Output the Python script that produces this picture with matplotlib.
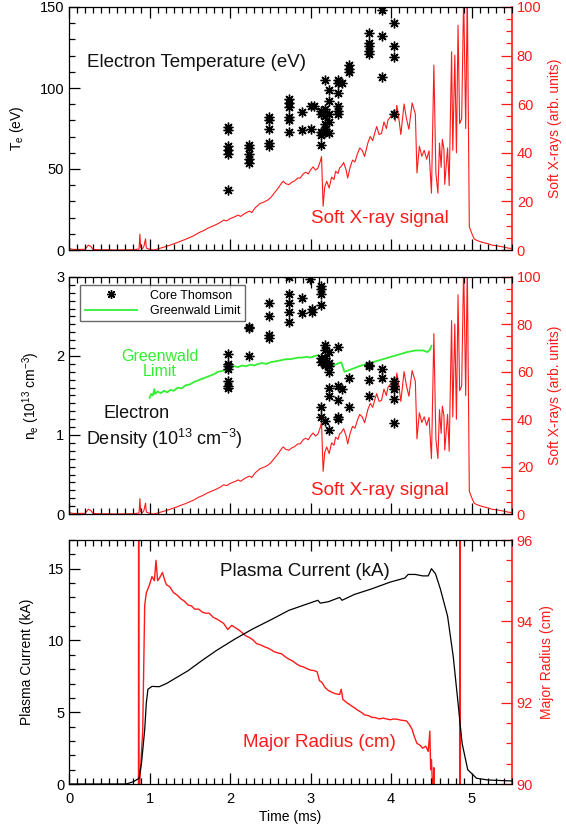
import matplotlib
matplotlib.use("Agg")
import matplotlib.pyplot as plt
from matplotlib.ticker import MultipleLocator
import numpy as np

plt.rcParams['font.family'] = ['Liberation Sans', 'DejaVu Sans']
plt.rcParams['mathtext.fontset'] = 'custom'
plt.rcParams['mathtext.rm'] = 'Liberation Sans'
plt.rcParams['mathtext.it'] = 'Liberation Sans:italic'

RED = '#ff1a1a'
GREEN = '#33ee33'

# ---------------- Soft X-ray signal (arb. units) ----------------
sxr_t = [0.00, 0.03, 0.10, 0.20, 0.24, 0.27, 0.30, 0.40, 0.50, 0.60, 0.70, 0.80, 0.87, 0.88, 0.89,
         0.91, 0.93, 0.95, 0.96, 1.00, 1.05, 1.10, 1.16, 1.22, 1.28, 1.34, 1.39, 1.44, 1.50, 1.55,
         1.61, 1.66, 1.72, 1.78, 1.83, 1.88, 1.92, 1.96, 2.00, 2.06, 2.10, 2.13, 2.18, 2.24, 2.27,
         2.31, 2.37, 2.41, 2.46, 2.50, 2.55, 2.60, 2.64, 2.66, 2.69, 2.73, 2.77, 2.80, 2.84, 2.87,
         2.91, 2.94, 2.97, 3.00, 3.03, 3.06, 3.09, 3.12, 3.135, 3.155, 3.175, 3.20, 3.23, 3.26, 3.29,
         3.31, 3.34, 3.36, 3.38, 3.41, 3.44, 3.46, 3.49, 3.52, 3.55, 3.58, 3.61, 3.64, 3.67, 3.71,
         3.74, 3.77, 3.80, 3.82, 3.85, 3.88, 3.91, 3.94, 3.96, 3.99, 4.01, 4.03, 4.05, 4.07, 4.09,
         4.12, 4.16, 4.19, 4.22, 4.26, 4.30, 4.32, 4.35, 4.38, 4.41, 4.44, 4.47, 4.50, 4.53, 4.555,
         4.58, 4.60, 4.62, 4.635, 4.655, 4.665, 4.70, 4.72, 4.75, 4.765, 4.79, 4.81, 4.83, 4.85, 4.875,
         4.90, 4.925, 4.945, 4.97, 5.00, 5.03, 5.06, 5.10, 5.15, 5.20, 5.25, 5.30, 5.35, 5.40, 5.45, 5.50]
sxr_v = [1.0, 0.3, 0.2, 0.3, 2.0, 1.5, 0.2, 0.1, 0.1, 0.0, 0.1, 0.1, 0.4, 6.5, 1.0,
         0.5, 1.5, 4.6, 0.8, 0.3, 0.0, 0.4, 1.0, 1.6, 2.3, 3.0, 3.7, 4.3, 5.2, 5.9,
         7.1, 7.8, 8.9, 9.8, 10.5, 11.4, 12.3, 12.0, 12.9, 13.7, 14.4, 13.8, 15.0, 16.0, 15.4,
         17.3, 19.1, 19.6, 20.4, 21.4, 23.5, 25.6, 27.6, 28.3, 27.3, 26.9, 28.0, 28.4, 29.6, 29.6,
         31.4, 32.0, 31.3, 33.0, 34.2, 32.9, 33.7, 36.5, 38.5, 18.0, 26.0, 28.3, 25.5, 30.0, 29.0,
         32.4, 31.5, 33.8, 34.4, 36.0, 33.0, 29.6, 34.0, 37.0, 36.2, 39.5, 42.0, 41.0, 38.5, 44.0,
         46.7, 45.0, 48.6, 50.8, 47.5, 48.0, 52.7, 50.0, 53.5, 54.7, 55.6, 57.4, 53.0, 59.5, 55.5,
         47.5, 60.1, 54.0, 49.7, 60.5, 56.0, 31.7, 42.7, 38.6, 41.0, 37.4, 40.8, 23.4, 76.1, 31.7,
         23.4, 44.0, 34.0, 45.5, 41.5, 27.0, 42.0, 26.5, 81.6, 41.0, 80.2, 40.0, 92.5, 52.0, 54.0,
         105.0, 50.0, 105.0, 9.6, 6.9, 4.6, 4.0, 3.5, 3.0, 2.6, 2.0, 1.8, 1.5, 1.2, 0.8, 0.6]

# ---------------- Thomson electron temperature (eV) ----------------
te_t = [1.98] * 6 + [2.24] * 5 + [2.48] * 5 + [2.73] * 6 + [2.89] * 2 + [3.00] * 2 + [3.04] + \
       [3.13] * 5 + [3.18] * 6 + [3.23] * 5 + [3.34] * 6 + [3.39] + [3.48] * 3 + [3.73] * 5 + \
       [3.88] * 3 + [4.04] * 4
te_v = [76, 74, 64, 62, 59, 37,
        65, 63, 59, 56, 54,
        82, 80, 75, 66, 64,
        93, 91, 88, 82, 80, 73,
        85, 74,
        89, 75,
        89,
        86, 84, 73, 71, 65,
        105, 87, 83, 78, 75, 73,
        99, 92, 84, 79, 72,
        105, 103, 97, 89, 86, 84,
        103,
        114, 112, 110,
        134, 128, 126, 123, 121,
        148, 132, 107,
        140, 126, 119, 84]

# ---------------- Thomson electron density (1e13 cm^-3) ----------------
ne_t = [1.98] * 7 + [2.24] * 3 + [2.48] * 4 + [2.73] * 5 + [2.89] * 2 + [2.99] + [3.02] * 2 + \
       [3.13] * 8 + [3.18] * 6 + [3.23] * 7 + [3.34] * 5 + [3.39] + [3.48] * 2 + [3.73] * 4 + \
       [3.88] * 2 + [4.04] * 5
ne_v = [2.03, 1.90, 1.87, 1.83, 1.68, 1.62, 1.59,
        2.37, 2.35, 2.00,
        2.67, 2.50, 2.27, 2.23,
        3.00, 2.79, 2.67, 2.56, 2.43,
        2.74, 2.54,
        2.98,
        2.60, 2.56,
        2.88, 2.85, 2.78, 2.64, 1.97, 1.93, 1.35, 1.23,
        2.14, 2.08, 1.97, 1.91, 1.89, 1.18,
        2.05, 1.91, 1.87, 1.80, 1.59, 1.49, 1.06,
        2.12, 1.62, 1.44, 1.23, 1.20,
        1.58,
        1.72, 1.36,
        1.89, 1.87, 1.70, 1.49,
        1.84, 1.72,
        1.68, 1.62, 1.58, 1.46, 1.15]

# ---------------- Greenwald limit (1e13 cm^-3) ----------------
gw_t = [1.00, 1.02, 1.04, 1.06, 1.07, 1.10, 1.14, 1.18, 1.22, 1.26, 1.30, 1.35, 1.40, 1.45, 1.50,
        1.55, 1.60, 1.65, 1.70, 1.75, 1.80, 1.85, 1.90, 1.95, 1.98, 2.00, 2.05, 2.10, 2.15, 2.20,
        2.25, 2.30, 2.35, 2.40, 2.45, 2.50, 2.55, 2.60, 2.65, 2.70, 2.75, 2.80, 2.85, 2.90, 2.95,
        3.00, 3.05, 3.10, 3.13, 3.18, 3.22, 3.27, 3.31, 3.35, 3.38, 3.40, 3.42, 3.50, 3.60, 3.70,
        3.80, 3.90, 4.00, 4.10, 4.20, 4.30, 4.40, 4.45, 4.48, 4.50]
gw_v = [1.47, 1.52, 1.50, 1.58, 1.52, 1.55, 1.53, 1.56, 1.54, 1.57, 1.56, 1.60, 1.59, 1.63, 1.64,
        1.67, 1.69, 1.71, 1.73, 1.75, 1.77, 1.80, 1.81, 1.82, 1.80, 1.85, 1.87, 1.86, 1.88, 1.87,
        1.89, 1.88, 1.90, 1.91, 1.90, 1.92, 1.93, 1.94, 1.95, 1.96, 1.96, 1.97, 1.98, 1.98, 1.99,
        1.98, 2.00, 2.01, 1.97, 1.95, 1.92, 1.88, 1.89, 1.91, 1.92, 1.86, 1.80, 1.83, 1.87, 1.90,
        1.93, 1.96, 1.99, 2.02, 2.05, 2.07, 2.07, 2.05, 2.08, 2.13]

# ---------------- Plasma current (kA) ----------------
ip_t = [0.00, 0.71, 0.80, 0.87, 0.90, 0.94, 0.96, 0.98, 1.03, 1.12, 1.21, 1.30, 1.48, 1.65, 1.83,
        2.06, 2.28, 2.51, 2.73, 2.96, 3.09, 3.12, 3.22, 3.36, 3.39, 3.54, 3.76, 3.99, 4.17, 4.21,
        4.30, 4.39, 4.46, 4.50, 4.55, 4.61, 4.70, 4.77, 4.83, 4.88, 4.95, 5.06, 5.20, 5.50]
ip_v = [0.0, 0.0, 0.16, 0.4, 1.45, 3.8, 5.65, 6.6, 6.8, 6.78, 7.0, 7.3, 7.9, 8.6, 9.3,
        10.1, 10.8, 11.45, 12.1, 12.55, 12.8, 12.6, 12.7, 13.0, 12.8, 13.2, 13.6, 14.07, 14.35, 14.6,
        14.6, 14.5, 14.5, 15.0, 14.65, 13.6, 11.7, 8.9, 5.65, 2.85, 1.0, 0.4, 0.28, 0.21]

# ---------------- Major radius (cm) ----------------
r_t = [0.00, 0.860, 0.865, 0.870, 0.880, 0.915, 0.94, 0.96, 0.98, 1.00, 1.03, 1.06, 1.08, 1.10,
       1.12, 1.16, 1.19, 1.21, 1.25, 1.30, 1.34, 1.39, 1.43, 1.48, 1.52, 1.56, 1.61, 1.66, 1.70,
       1.74, 1.79, 1.84, 1.88, 1.92, 1.97, 2.02, 2.06, 2.10, 2.15, 2.19, 2.24, 2.28, 2.33, 2.38,
       2.42, 2.46, 2.51, 2.55, 2.60, 2.64, 2.69, 2.73, 2.78, 2.82, 2.87, 2.91, 2.95, 3.00, 3.04,
       3.08, 3.11, 3.14, 3.18, 3.22, 3.27, 3.31, 3.36, 3.38, 3.40, 3.45, 3.50, 3.54, 3.58, 3.63,
       3.67, 3.72, 3.76, 3.81, 3.85, 3.90, 3.94, 3.99, 4.03, 4.08, 4.12, 4.16, 4.19, 4.23, 4.26,
       4.29, 4.32, 4.36, 4.39, 4.43, 4.46, 4.48, 4.49, 4.50, 4.51, 4.52, 4.53, 4.54, 4.55,
       4.848, 4.852, 4.856, 5.50]
r_v = [80.0, 80.0, 100.0, 80.0, 90.1, 91.3, 94.4, 94.7, 94.8, 94.9, 95.1, 95.0, 95.5, 95.0,
       95.05, 95.2, 95.0, 94.9, 94.85, 94.7, 94.65, 94.55, 94.5, 94.4, 94.38, 94.3, 94.3, 94.22, 94.2,
       94.2, 94.1, 94.05, 94.0, 93.95, 93.8, 93.9, 93.85, 93.8, 93.72, 93.65, 93.6, 93.55, 93.45, 93.42,
       93.38, 93.35, 93.3, 93.25, 93.22, 93.2, 93.12, 93.07, 93.02, 92.96, 92.9, 92.88, 92.84, 92.8, 92.79,
       92.76, 92.54, 92.5, 92.37, 92.3, 92.25, 92.22, 92.2, 92.33, 92.08, 92.0, 91.93, 91.88, 91.82, 91.76,
       91.7, 91.68, 91.64, 91.63, 91.6, 91.62, 91.6, 91.58, 91.6, 91.59, 91.57, 91.56, 91.55, 91.45, 91.34,
       91.15, 91.0, 90.95, 90.88, 90.93, 90.8, 91.3, 90.35, 90.6, 90.1, 89.5, 90.4, 89.0, 80.0,
       80.0, 100.0, 80.0, 80.0]

# ---------------- Figure layout ----------------
W, H = 566, 831
fig = plt.figure(figsize=(W / 100, H / 100), dpi=100)
L, R_ = 69 / W, 512 / W

def mkax(top, bot):
    return fig.add_axes([L, 1 - bot / H, R_ - L, (bot - top) / H])

ax1 = mkax(7, 250)
ax2 = mkax(277, 514)
ax3 = mkax(540, 784)

TICKFS = 10.5
LABFS = 10
ANNFS = 13.5
MK = dict(linestyle='none', marker=(8, 2, 0), ms=7, mew=1.0, color='black')

def style_left(ax, ylim, major, minor, labelx=True):
    ax.set_xlim(0, 5.5)
    ax.set_ylim(*ylim)
    ax.xaxis.set_major_locator(MultipleLocator(1))
    ax.xaxis.set_minor_locator(MultipleLocator(0.1))
    ax.yaxis.set_major_locator(MultipleLocator(major))
    ax.yaxis.set_minor_locator(MultipleLocator(minor))
    ax.tick_params(which='both', direction='in', top=True, right=False, labelsize=TICKFS, width=0.9)
    ax.tick_params(which='major', length=8)
    ax.tick_params(which='minor', length=4)
    ax.tick_params(axis='x', labelbottom=labelx, pad=6)
    ax.spines['right'].set_visible(False)
    for s in ['left', 'top', 'bottom']:
        ax.spines[s].set_linewidth(0.9)

def style_right(axr, ylim, major, minor):
    axr.set_ylim(*ylim)
    axr.yaxis.set_major_locator(MultipleLocator(major))
    axr.yaxis.set_minor_locator(MultipleLocator(minor))
    axr.tick_params(which='both', direction='in', colors=RED, labelsize=TICKFS, width=0.9)
    axr.tick_params(which='major', length=8)
    axr.tick_params(which='minor', length=4)
    axr.tick_params(axis='x', which='both', bottom=False, top=False, labelbottom=False)
    for s in ['left', 'top', 'bottom']:
        axr.spines[s].set_visible(False)
    axr.spines['right'].set_color(RED)
    axr.spines['right'].set_linewidth(1.2)

# ---- Panel 1 ----
ax1r = ax1.twinx()
style_left(ax1, (0, 150), 50, 10, labelx=False)
style_right(ax1r, (0, 100), 20, 5)
ax1r.plot(sxr_t, sxr_v, color=RED, lw=0.8)
ax1.plot(te_t, te_v, **MK)
ax1.set_zorder(ax1r.get_zorder() + 1)
ax1.patch.set_visible(False)
ax1.set_ylabel(r'T$_\mathrm{e}$ (eV)', fontsize=LABFS, labelpad=10)
ax1r.set_ylabel('Soft X-rays (arb. units)', fontsize=LABFS, color=RED, labelpad=5)
ax1.text(0.22, 116, 'Electron Temperature (eV)', fontsize=ANNFS, color='#111111', va='center')
ax1r.text(3.0, 12.8, 'Soft X-ray signal', fontsize=ANNFS, color=RED, va='center')

# ---- Panel 2 ----
ax2r = ax2.twinx()
style_left(ax2, (0, 3), 1, 0.1, labelx=False)
style_right(ax2r, (0, 100), 20, 5)
ax2r.plot(sxr_t, sxr_v, color=RED, lw=0.8)
ax2.plot(gw_t, gw_v, color=GREEN, lw=1.3, label='Greenwald Limit')
ax2.plot(ne_t, ne_v, label='Core Thomson', **MK)
ax2.set_zorder(ax2r.get_zorder() + 1)
ax2.patch.set_visible(False)
h, l = ax2.get_legend_handles_labels()
leg = ax2.legend([h[1], h[0]], [l[1], l[0]], loc='upper left', bbox_to_anchor=(0.02, 0.975),
                 fontsize=9, frameon=True, fancybox=False, borderpad=0.35, handlelength=4.2,
                 labelspacing=0.25, markerscale=0.9, handletextpad=1.0, borderaxespad=0.2)
leg.get_frame().set_edgecolor('#444444')
leg.get_frame().set_linewidth(1.0)
ax2.set_ylabel(r'n$_\mathrm{e}$ (10$^{13}$ cm$^{-3}$)', fontsize=LABFS, labelpad=10)
ax2r.set_ylabel('Soft X-rays (arb. units)', fontsize=LABFS, color=RED, labelpad=5)
ax2.text(1.13, 1.90, 'Greenwald\nLimit', fontsize=11.5, color=GREEN, ha='center', va='center',
         linespacing=1.05)
ax2.text(0.845, 1.27, 'Electron', fontsize=13, color='#111111', ha='center', va='center')
ax2.text(0.21, 0.95, r'Density (10$^{13}$ cm$^{-3}$)', fontsize=13, color='#111111', va='center')
ax2r.text(3.0, 10.1, 'Soft X-ray signal', fontsize=ANNFS, color=RED, va='center')

# ---- Panel 3 ----
ax3r = ax3.twinx()
style_left(ax3, (0, 17), 5, 1, labelx=True)
style_right(ax3r, (90, 96), 2, 0.5)
ax3r.plot(r_t, r_v, color=RED, lw=1.0)
ax3.plot(ip_t, ip_v, color='black', lw=0.9)
ax3.set_zorder(ax3r.get_zorder() + 1)
ax3.patch.set_visible(False)
ax3.set_ylabel('Plasma Current (kA)', fontsize=LABFS, labelpad=10)
ax3r.set_ylabel('Major Radius (cm)', fontsize=LABFS, color=RED, labelpad=5)
ax3.set_xlabel('Time (ms)', fontsize=LABFS, labelpad=3)
ax3.text(1.88, 14.8, 'Plasma Current (kA)', fontsize=ANNFS, color='#111111', va='center')
ax3r.text(2.16, 91.03, 'Major Radius (cm)', fontsize=ANNFS, color=RED, va='center')

fig.savefig('out.png', dpi=100)
